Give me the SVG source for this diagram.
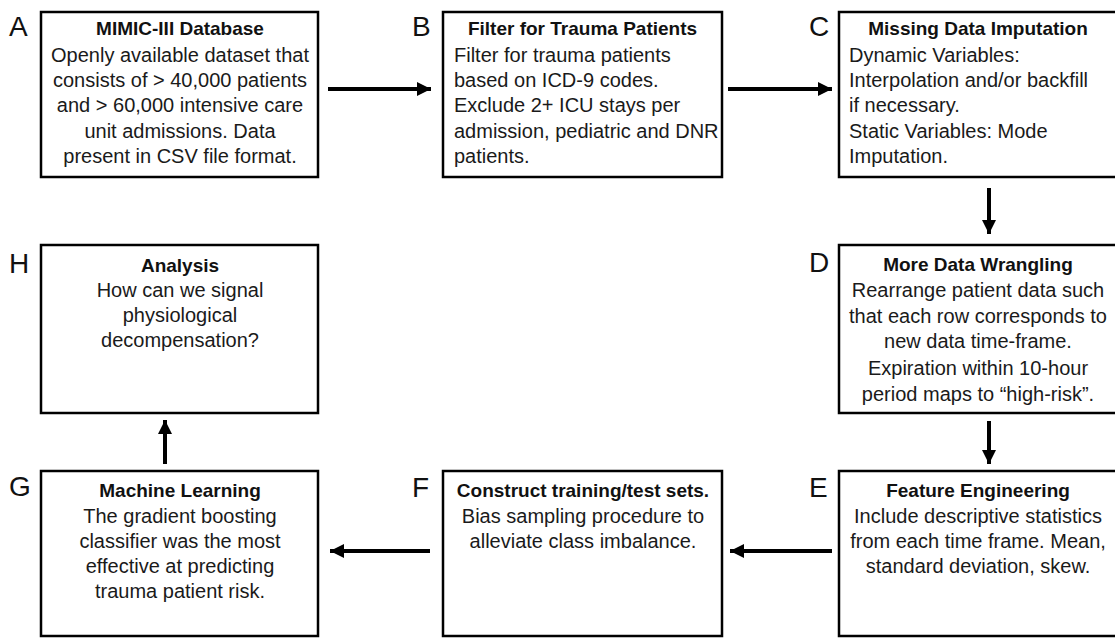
<svg xmlns="http://www.w3.org/2000/svg" width="1115" height="638" viewBox="0 0 1115 638">
<style>
.box{fill:#fff;stroke:#000;stroke-width:2.5}
.t{font-family:"Liberation Sans",Arial,sans-serif;font-size:20px;fill:#1a1a1a}
.b{font-family:"Liberation Sans",Arial,sans-serif;font-size:19px;font-weight:bold;fill:#111}
.c{text-anchor:middle}
.lt{font-family:"Liberation Sans",Arial,sans-serif;font-size:28px;fill:#111}
.ar{stroke:#000;stroke-width:4;fill:none;marker-end:url(#ah)}
</style>
<defs>
<marker id="ah" markerUnits="userSpaceOnUse" markerWidth="16" markerHeight="16" viewBox="0 0 16 16" refX="15" refY="8" orient="auto">
<path d="M1,1 L15,8 L1,15 Z" fill="#000"/>
</marker>
</defs>
<rect width="1115" height="638" fill="#fff"/>
<g id="connectors">
<line class="ar" x1="328" y1="89" x2="431" y2="89"/>
<line class="ar" x1="728" y1="89" x2="832" y2="89"/>
<line class="ar" x1="989" y1="188" x2="989" y2="234"/>
<line class="ar" x1="989" y1="421" x2="989" y2="464"/>
<line class="ar" x1="832" y1="551" x2="730" y2="551"/>
<line class="ar" x1="430" y1="551" x2="330" y2="551"/>
<line class="ar" x1="165" y1="464" x2="165" y2="420"/>
</g>
<g id="nodeA">
<rect class="box" x="41" y="12" width="277" height="165"/>
<text class="lt" x="9" y="36">A</text>
<text class="b c" x="180" y="35">MIMIC-III Database</text>
<text class="t c" x="180" y="62">Openly available dataset that</text>
<text class="t c" x="180" y="87">consists of &gt; 40,000 patients</text>
<text class="t c" x="180" y="112">and &gt; 60,000 intensive care</text>
<text class="t c" x="180" y="138">unit admissions. Data</text>
<text class="t c" x="180" y="163">present in CSV file format.</text>
</g>
<g id="nodeB">
<rect class="box" x="443" y="12" width="279" height="165"/>
<text class="lt" x="412" y="36">B</text>
<text class="b c" x="582.5" y="35">Filter for Trauma Patients</text>
<text class="t" x="454" y="62">Filter for trauma patients</text>
<text class="t" x="454" y="87">based on ICD-9 codes.</text>
<text class="t" x="454" y="112">Exclude 2+ ICU stays per</text>
<text class="t" x="454" y="138">admission, pediatric and DNR</text>
<text class="t" x="454" y="163">patients.</text>
</g>
<g id="nodeC">
<rect class="box" x="839" y="12" width="282" height="165"/>
<text class="lt" x="809" y="36">C</text>
<text class="b c" x="978" y="35">Missing Data Imputation</text>
<text class="t" x="849" y="62">Dynamic Variables:</text>
<text class="t" x="849" y="87">Interpolation and/or backfill</text>
<text class="t" x="849" y="112">if necessary.</text>
<text class="t" x="849" y="138">Static Variables: Mode</text>
<text class="t" x="849" y="163">Imputation.</text>
</g>
<g id="nodeD">
<rect class="box" x="839" y="245" width="282" height="168"/>
<text class="lt" x="809" y="272">D</text>
<text class="b c" x="978" y="271">More Data Wrangling</text>
<text class="t c" x="978" y="297">Rearrange patient data such</text>
<text class="t c" x="978" y="323">that each row corresponds to</text>
<text class="t c" x="978" y="348">new data time-frame.</text>
<text class="t c" x="978" y="375">Expiration within 10-hour</text>
<text class="t c" x="978" y="401">period maps to “high-risk”.</text>
</g>
<g id="nodeE">
<rect class="box" x="839" y="471" width="282" height="165"/>
<text class="lt" x="809" y="497">E</text>
<text class="b c" x="978" y="497">Feature Engineering</text>
<text class="t c" x="978" y="523">Include descriptive statistics</text>
<text class="t c" x="978" y="548">from each time frame. Mean,</text>
<text class="t c" x="978" y="573">standard deviation, skew.</text>
</g>
<g id="nodeF">
<rect class="box" x="443" y="471" width="279" height="165"/>
<text class="lt" x="412" y="497">F</text>
<text class="b c" x="583" y="497">Construct training/test sets.</text>
<text class="t c" x="583" y="523">Bias sampling procedure to</text>
<text class="t c" x="583" y="548">alleviate class imbalance.</text>
</g>
<g id="nodeG">
<rect class="box" x="41" y="471" width="277" height="165"/>
<text class="lt" x="9" y="496">G</text>
<text class="b c" x="180" y="497">Machine Learning</text>
<text class="t c" x="180" y="523">The gradient boosting</text>
<text class="t c" x="180" y="548">classifier was the most</text>
<text class="t c" x="180" y="573">effective at predicting</text>
<text class="t c" x="180" y="598">trauma patient risk.</text>
</g>
<g id="nodeH">
<rect class="box" x="41" y="245" width="277" height="168"/>
<text class="lt" x="9" y="273">H</text>
<text class="b c" x="180" y="272">Analysis</text>
<text class="t c" x="180" y="297">How can we signal</text>
<text class="t c" x="180" y="322">physiological</text>
<text class="t c" x="180" y="347">decompensation?</text>
</g>
</svg>
